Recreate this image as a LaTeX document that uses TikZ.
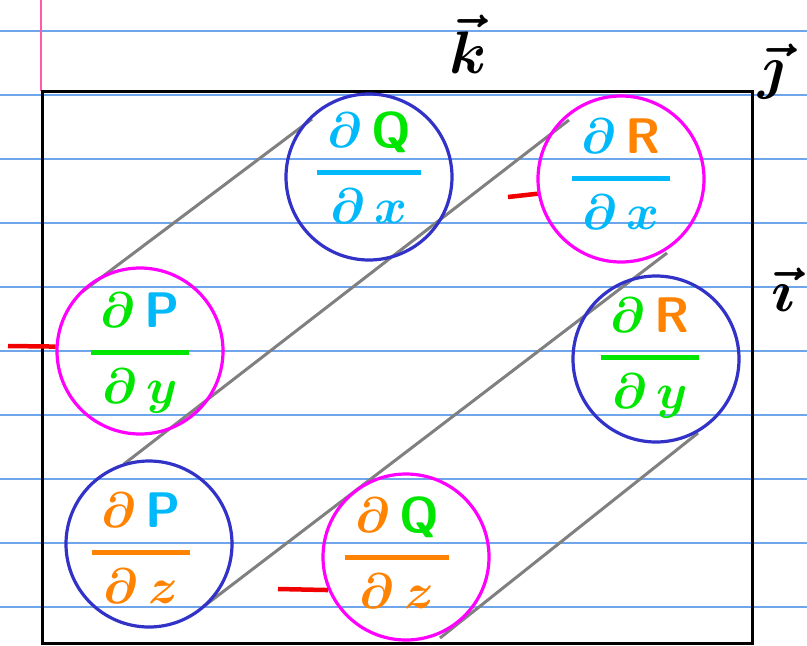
\documentclass[tikz,border=0pt]{standalone}
\definecolor{ruled}{RGB}{110,165,235}
\definecolor{margin}{RGB}{255,90,170}
\definecolor{cblue}{RGB}{50,50,200}
\definecolor{cmag}{RGB}{255,0,255}
\definecolor{tcyan}{RGB}{0,185,250}
\definecolor{tgreen}{RGB}{0,230,0}
\definecolor{torange}{RGB}{255,130,0}
\definecolor{lgray}{RGB}{128,128,128}
\definecolor{dred}{RGB}{240,0,0}
\tikzset{
  ruleline/.style={ruled, line width=1.2pt},
  circbase/.style={circle, minimum size=166pt, inner sep=0pt, line width=3.2pt},
  bluecirc/.style={circbase, draw=cblue},
  magcirc/.style={circbase, draw=cmag},
  diag/.style={lgray, line width=3pt},
  redmark/.style={dred, line width=4.5pt},
  fracnode/.style={inner sep=0pt, scale=5},
  veclabel/.style={inner sep=0pt, scale=6, text=black},
}
\newcommand{\pd}[2]{\displaystyle{\,\partial\,#1\,\above 0.9pt \,\partial\,#2\,}}
\begin{document}
\begin{tikzpicture}[x=1pt,y=-1pt]
\fill[white] (0,0) rectangle (807,646);
\useasboundingbox (0,0) rectangle (807,646);
\foreach \y in {31,95,...,607} \draw[ruleline] (0,\y) -- (807,\y);
\draw[margin, line width=1.2pt] (41,0) -- (41,91);
\draw[black, line width=3pt] (42,91) rectangle (752,643);

% diagonal strokes
\coordinate (a1) at (82,292);  \coordinate (b1) at (312,119);
\coordinate (a2) at (124,464); \coordinate (b2) at (569,120);
\coordinate (a3) at (203,607); \coordinate (b3) at (667,253);
\coordinate (a4) at (440,638); \coordinate (b4) at (698,433);
\draw[diag] (a1) -- (b1);
\draw[diag] (a2) -- (b2);
\draw[diag] (a3) -- (b3);
\draw[diag] (a4) -- (b4);

% circles
\node[bluecirc] (qx) at (369,177) {};
\node[magcirc]  (rx) at (621,179) {};
\node[magcirc]  (py) at (140,351) {};
\node[bluecirc] (ry) at (656,359) {};
\node[bluecirc] (pz) at (149,544) {};
\node[magcirc]  (qz) at (406,557) {};

% fractions
\boldmath
\node[fracnode, text=tcyan]   (tqx) at (369,168) {$\pd{{\color{tgreen}\mathsf{Q}}}{x}$};
\node[fracnode, text=tcyan]   (trx) at (621,174) {$\pd{{\color{torange}\mathsf{R}}}{x}$};
\node[fracnode, text=tgreen]  (tpy) at (140,353) {$\pd{{\color{tcyan}\mathsf{P}}}{y}$};
\node[fracnode, text=tgreen]  (try) at (650,358) {$\pd{{\color{torange}\mathsf{R}}}{y}$};
\node[fracnode, text=torange] (tpz) at (141,548) {$\pd{{\color{tcyan}\mathsf{P}}}{z}$};
\node[fracnode, text=torange] (tqz) at (397,553) {$\pd{{\color{tgreen}\mathsf{Q}}}{z}$};

% red marks
\coordinate (r1) at (8,346);
\coordinate (r2) at (508,197);
\coordinate (r3) at (278,589);
\draw[redmark] (r1) -- (py.177);
\draw[redmark] (r2) -- (rx.190);
\draw[redmark] (r3) -- (qz.203);

% unit vectors
\node[veclabel] (vk) at (468,44) {$\vec{k}$};
\node[veclabel] (vj) at (772,72) {$\vec{\jmath}$};
\node[veclabel] (vi) at (783,290) {$\vec{\imath}$};
\end{tikzpicture}
\end{document}
